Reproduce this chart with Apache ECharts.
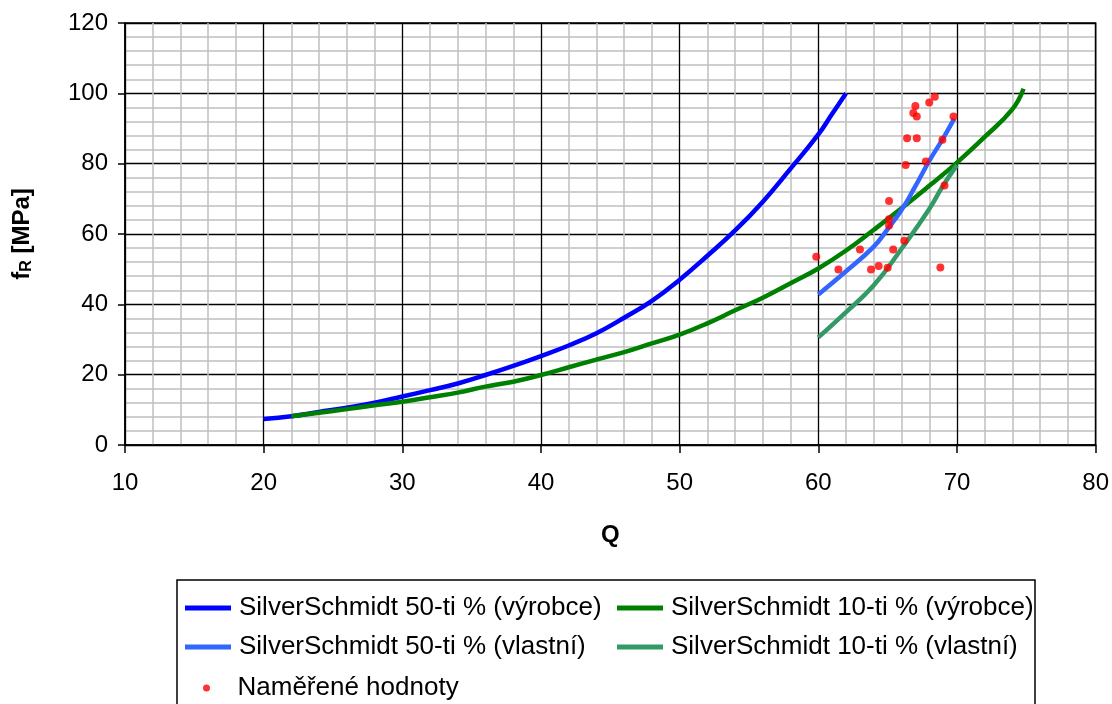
<!DOCTYPE html>
<html>
<head>
<meta charset="utf-8">
<script src="https://cdn.jsdelivr.net/npm/echarts@6/dist/echarts.min.js"></script>
<style>
  html, body { margin: 0; padding: 0; background: #ffffff; }
  #chart { width: 1112px; height: 704px; }
</style>
</head>
<body>
<div id="chart"></div>
<script>
// Calibration curves: Q (rebound number) vs. compressive strength fR [MPa]
const vyrobce50Q  = [20, 22, 24, 26, 28, 30, 32, 34, 36, 38, 40, 42, 44, 46, 48, 50, 52, 54, 56, 58, 60, 61, 62];
const vyrobce50fR = [7.4, 8.2, 9.4, 10.6, 12.0, 13.8, 15.6, 17.5, 19.9, 22.5, 25.3, 28.3, 31.8, 36.2, 41.0, 47.0, 53.8, 61.0, 69.2, 78.6, 88.3, 94.2, 100.0];

const vyrobce10Q  = [22, 24, 26, 28, 30, 32, 34, 36, 38, 40, 42, 44, 46, 48, 50, 52, 54, 56, 58, 60, 62, 64, 66, 68, 70, 72, 74, 74.8];
const vyrobce10fR = [8.2, 9.2, 10.2, 11.3, 12.3, 13.6, 14.9, 16.6, 18.0, 19.9, 22.1, 24.3, 26.4, 28.9, 31.4, 34.6, 38.3, 41.9, 46.0, 50.2, 55.3, 61.2, 67.3, 73.7, 80.3, 87.6, 95.5, 101.3];

const vlastni50Q  = [60, 62, 64, 65, 66, 67, 68, 69, 69.8];
const vlastni50fR = [42.8, 49.4, 56.4, 61.4, 66.8, 73.6, 80.8, 87.2, 92.8];

const vlastni10Q  = [60, 62, 64, 66, 68, 69, 70];
const vlastni10fR = [30.6, 37.8, 45.4, 55.8, 67.1, 73.8, 79.6];

// Measured values
const namereneQ  = [68.4, 68.0, 67.0, 66.85, 67.1, 69.75, 66.4, 67.1, 68.95, 66.3, 67.75, 69.1, 65.1, 65.1, 65.1, 66.2, 65.4, 63.0, 59.85, 61.45, 63.8, 64.35, 65.0, 68.8];
const namerenefR = [99.0, 97.4, 96.4, 94.4, 93.4, 93.4, 87.2, 87.2, 86.8, 79.6, 80.6, 73.8, 69.4, 64.2, 62.4, 58.1, 55.6, 55.6, 53.5, 49.9, 49.9, 50.9, 50.4, 50.5];

const xTicks = { min: 10, max: 80, step: 10 };
const yTicks = { min: 0, max: 120, step: 20 };

const seriesNames = [
  'SilverSchmidt 50-ti % (výrobce)',
  'SilverSchmidt 10-ti % (výrobce)',
  'SilverSchmidt 50-ti % (vlastní)',
  'SilverSchmidt 10-ti % (vlastní)',
  'Naměřené hodnoty'
];

const FONT = '"Liberation Sans", Arial, sans-serif';

const pairs = (xs, ys) => xs.map((x, i) => [x, ys[i]]);

function lineSeries(name, xs, ys, color) {
  return {
    name: name,
    type: 'line',
    data: pairs(xs, ys),
    showSymbol: false,
    symbol: 'none',
    smooth: 0.45,
    lineStyle: { color: color, width: 4.5 },
    itemStyle: { color: color },
    animation: false
  };
}

const chart = echarts.init(document.getElementById('chart'), null, { renderer: 'canvas' });

const legendText = { color: '#000', fontFamily: FONT, fontSize: 26, padding: [0, 0, 0, 3] };

chart.setOption({
  backgroundColor: '#ffffff',
  animation: false,
  grid: {
    left: 125, top: 23, right: 16, bottom: 259,
    show: true, borderColor: '#000', borderWidth: 1.5, backgroundColor: 'transparent'
  },
  xAxis: {
    type: 'value',
    min: xTicks.min, max: xTicks.max, interval: xTicks.step,
    name: 'Q',
    nameLocation: 'middle',
    nameGap: 78,
    nameTextStyle: { fontFamily: FONT, fontSize: 24, fontWeight: 'bold', color: '#000' },
    axisLine: { show: true, lineStyle: { color: '#000', width: 1.5 } },
    axisTick: { show: true, length: 8, lineStyle: { color: '#000', width: 1.5 } },
    axisLabel: { margin: 26, fontFamily: FONT, fontSize: 24, color: '#000' },
    splitLine: { show: true, lineStyle: { color: '#000', width: 1.3 } },
    minorTick: { show: false, splitNumber: 5 },
    minorSplitLine: { show: true, lineStyle: { color: '#c0c0c0', width: 1.5 } }
  },
  yAxis: {
    type: 'value',
    min: yTicks.min, max: yTicks.max, interval: yTicks.step,
    name: '{t|f}{s|R}{t| [MPa]}',
    nameLocation: 'middle',
    nameGap: 90,
    nameRotate: 90,
    nameTextStyle: {
      color: '#000',
      rich: {
        t: { fontFamily: FONT, fontSize: 24, fontWeight: 'bold', color: '#000' },
        s: { fontFamily: FONT, fontSize: 16, fontWeight: 'bold', color: '#000', verticalAlign: 'bottom', padding: [10, 0, 0, 0] }
      }
    },
    axisLine: { show: true, lineStyle: { color: '#000', width: 1.5 } },
    axisTick: { show: true, length: 7, lineStyle: { color: '#000', width: 1.5 } },
    axisLabel: { margin: 17, fontFamily: FONT, fontSize: 24, color: '#000' },
    splitLine: { show: true, lineStyle: { color: '#000', width: 1.3 } },
    minorTick: { show: false, splitNumber: 5 },
    minorSplitLine: { show: true, lineStyle: { color: '#c0c0c0', width: 1.5 } }
  },
  legend: [
    {
      orient: 'vertical', left: 185, top: 595, itemGap: 13, padding: 0,
      itemWidth: 46, itemHeight: 5, icon: 'rect',
      textStyle: legendText, selectedMode: false,
      data: [seriesNames[0], seriesNames[2]]
    },
    {
      orient: 'vertical', left: 617, top: 595, itemGap: 13, padding: 0,
      itemWidth: 46, itemHeight: 5, icon: 'rect',
      textStyle: legendText, selectedMode: false,
      data: [seriesNames[1], seriesNames[3]]
    },
    {
      orient: 'vertical', left: 203, top: 675, padding: 0,
      itemWidth: 46, itemHeight: 7, icon: 'circle',
      textStyle: legendText, selectedMode: false,
      data: [seriesNames[4]]
    }
  ],
  graphic: [
    {
      type: 'rect',
      shape: { x: 177, y: 580, width: 858, height: 140 },
      style: { fill: 'none', stroke: '#000', lineWidth: 1.5 },
      silent: true
    }
  ],
  series: [
    lineSeries(seriesNames[0], vyrobce50Q, vyrobce50fR, '#0000ff'),
    lineSeries(seriesNames[1], vyrobce10Q, vyrobce10fR, '#008000'),
    lineSeries(seriesNames[2], vlastni50Q, vlastni50fR, '#3366ff'),
    lineSeries(seriesNames[3], vlastni10Q, vlastni10fR, '#339966'),
    {
      name: seriesNames[4],
      type: 'scatter',
      data: pairs(namereneQ, namerenefR),
      symbol: 'circle',
      symbolSize: 8,
      itemStyle: { color: '#ff0000' },
      z: 5
    }
  ]
});
</script>
</body>
</html>
